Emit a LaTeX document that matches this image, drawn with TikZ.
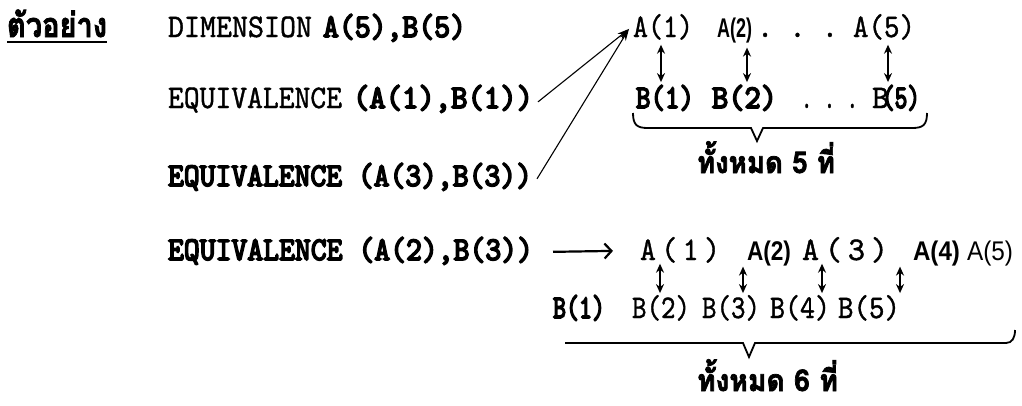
\documentclass[tikz,border=0pt]{standalone}
\usepackage{fontspec}
\usepackage{graphicx}
\setmonofont[Extension=.otf,FakeBold=1.2]{lmmono10-regular}
\newfontfamily\ttbold[Extension=.otf,FakeBold=5]{lmmono10-regular}
\newfontfamily\sansf{Liberation Sans}
\newfontfamily\thaif[Script=Thai,FakeBold=2.5]{Loma}
\usetikzlibrary{arrows.meta}
\newcommand{\fitw}[2]{\resizebox{#1}{\height}{#2}}
\tikzset{
  txt/.style={inner sep=0pt, outer sep=0pt, anchor=base west},
  reg/.style={txt, font=\ttfamily\fontsize{33}{33}\selectfont},
  regsp/.style={txt, font=\ttfamily\fontsize{33}{33}\selectfont\addfontfeature{LetterSpace=18}},
  bld/.style={txt, font=\ttbold\fontsize{33}{33}\selectfont},
  sbf/.style={txt, font=\sansf\bfseries\fontsize{27}{27}\selectfont},
  srg/.style={txt, font=\sansf\fontsize{27}{27}\selectfont},
  thai/.style={txt, font=\thaif\bfseries\fontsize{34}{34}\selectfont},
  thaism/.style={txt, font=\thaif\bfseries\fontsize{30}{30}\selectfont},
  dbl/.style={line width=2.2pt, {Stealth[length=9pt,width=8pt]}-{Stealth[length=9pt,width=8pt]}},
  link/.style={line width=1.1pt, -{Stealth[length=12pt,width=7pt]}},
  brace/.style={line width=1.8pt, line join=miter},
  ul/.style={line width=2.4pt},
}
\begin{document}
\begin{tikzpicture}[x=1pt,y=-1pt]
\useasboundingbox[fill=white] (0,0) rectangle (1022,405);

% ---- heading
\node[thai] (ex) at (7,37) {\fitw{100pt}{ตัวอย่าง}};
\draw[ul] ([yshift=-5pt]ex.base west) -- ([yshift=-5pt]ex.base east);

% ---- row 1
\node[reg] (dim) at (168,37) {\fitw{144pt}{DIMENSION}};
\node[bld] (dimab) at (323,37) {\fitw{143pt}{A(5),B(5)}};
\node[reg] (ta1) at (633,37) {\fitw{60pt}{A(1)}};
\node[sbf] (ta2) at (717,37) {\fitw{35pt}{A(2)}};
\node[reg] (tdots) at (757,37) {\fitw{81pt}{.~.~.}};
\node[reg] (ta5) at (853,37) {\fitw{62pt}{A(5)}};

% ---- row 2
\node[reg] (eq2a) at (168,108) {\fitw{174pt}{EQUIVALENCE}};
\node[bld] (eq2b) at (353,108) {\fitw{180pt}{(A(1),B(1))}};
\node[bld] (tb1) at (636,108) {\fitw{58pt}{B(1)}};
\node[bld] (tb2) at (712,108) {\fitw{65pt}{B(2)}};
\node[reg] (tdots2) at (801,108) {\fitw{57pt}{.~.~.}};
\node[reg] (tb5a) at (872,108) {\fitw{17pt}{B}};
\node[bld] (tb5b) at (882,108) {\fitw{38pt}{(5)}};

% ---- links to A(1)
\draw[link] ([xshift=5pt,yshift=-3pt]eq2b.east) -- ([xshift=-4pt,yshift=-2pt]ta1.west);

% ---- top double arrows
\draw[dbl] ([xshift=28pt,yshift=-5pt]ta1.south west) -- ([xshift=28pt,yshift=3pt]ta1.south west |- tb1.north);
\draw[dbl] ([xshift=30pt,yshift=-5pt]ta2.south west) -- ([xshift=30pt,yshift=3pt]ta2.south west |- tb2.north);
\draw[dbl] ([xshift=35pt,yshift=-5pt]ta5.south west) -- ([xshift=35pt,yshift=3pt]ta5.south west |- tb5b.north);

% ---- brace 1
\draw[brace] (633,113) .. controls (633,125) and (637,128) .. (648,128) -- (751,128) -- (757,141) -- (763,128) -- (912,128) .. controls (923,128) and (927,125) .. (927,113);
\node[thaism] (t5) at (697,173) {\fitw{138pt}{ทั้งหมด 5 ที่}};

% ---- row 3
\node[bld] (eq3) at (168,186) {\fitw{364pt}{EQUIVALENCE (A(3),B(3))}};
\draw[link] ([xshift=5pt,yshift=-2pt]eq3.east) -- ([xshift=-4pt,yshift=-2pt]ta1.west);

% ---- row 4
\node[bld] (eq4) at (168,260) {\fitw{365pt}{EQUIVALENCE (A(2),B(3))}};
\node[regsp] (ba1) at (640,260) {\fitw{80pt}{A(1)}};
\node[sbf] (ba2) at (747,260) {\fitw{44pt}{A(2)}};
\node[regsp] (ba3) at (802,260) {\fitw{86pt}{A(3)}};
\node[sbf] (ba4) at (913,260) {\fitw{47pt}{A(4)}};
\node[srg] (ba5) at (967,260) {\fitw{46pt}{A(5)}};
\draw[line width=2.2pt, -{Straight Barb[length=7pt,width=15pt,line width=2.2pt]}] ([xshift=20pt,yshift=-1pt]eq4.east) -- ([xshift=-27pt,yshift=-1pt]ba1.west);

% ---- row 5
\node[bld] (bb1) at (553,318) {\fitw{52pt}{B(1)}};
\node[reg] (bb2) at (632,318) {\fitw{58pt}{B(2)}};
\node[reg] (bb3) at (702,318) {\fitw{58pt}{B(3)}};
\node[reg] (bb4) at (770,318) {\fitw{60pt}{B(4)}};
\node[reg] (bb5) at (838,318) {\fitw{62pt}{B(5)}};

% ---- bottom double arrows
\draw[dbl] ([xshift=20pt,yshift=-1pt]ba1.south west) -- ([xshift=20pt,yshift=2pt]ba1.south west |- bb2.north);
\draw[dbl] ([xshift=-4pt,yshift=-1pt]ba2.south west) -- ([xshift=-4pt,yshift=2pt]ba2.south west |- bb3.north);
\draw[dbl] ([xshift=20pt,yshift=-1pt]ba3.south west) -- ([xshift=20pt,yshift=2pt]ba3.south west |- bb4.north);
\draw[dbl] ([xshift=-13pt,yshift=-1pt]ba4.south west) -- ([xshift=-13pt,yshift=2pt]ba4.south west |- bb5.north);

% ---- brace 2
\draw[brace] (565,343) -- (743,343) -- (749,357) -- (755,343) -- (1006,343) .. controls (1012,343) and (1015,338) .. (1015,330);
\node[thaism] (t6) at (697,391) {\fitw{141pt}{ทั้งหมด 6 ที่}};
\end{tikzpicture}
\end{document}
